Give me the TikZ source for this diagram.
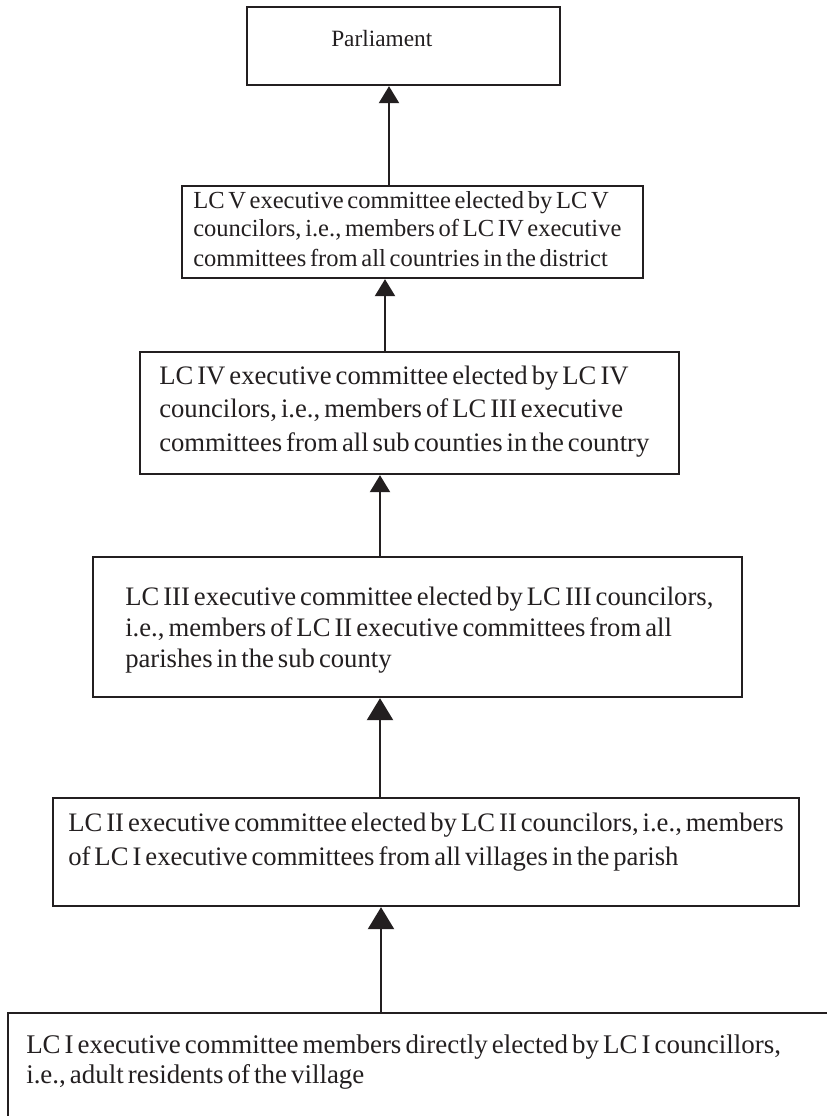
\documentclass[tikz,border=0pt]{standalone}
\usepackage{fontspec}
\setmainfont{Liberation Serif}[WordSpace=0.6]
\usetikzlibrary{arrows.meta,fit}
\definecolor{ink}{RGB}{35,31,32}
\frenchspacing
\begin{document}
\begin{tikzpicture}[x=0.75pt,y=-0.75pt,
  box/.style={draw=ink, line width=1.75pt, rectangle, inner sep=0pt},
  arr/.style={draw=ink, line width=1.7pt, -{Triangle[length=12.75pt,width=15pt]}},
  bigarr/.style={draw=ink, line width=1.7pt, -{Triangle[length=16.5pt,width=19.5pt]}},
  txt/.style={anchor=base west, inner sep=0pt, text=ink},
  fP/.style={font=\fontsize{17.5pt}{20pt}\selectfont},
  fV/.style={font=\fontsize{18.4pt}{21pt}\selectfont},
  fIV/.style={font=\fontsize{20pt}{24pt}\selectfont},
  fIII/.style={font=\fontsize{20pt}{24pt}\selectfont},
  fII/.style={font=\fontsize{20pt}{24pt}\selectfont},
  fI/.style={font=\fontsize{20.2pt}{24pt}\selectfont}]
\useasboundingbox (0,0) rectangle (827,1116);
\clip (0,0) rectangle (827,1116);
\fill[white] (0,0) rectangle (827,1116);

% boxes
\node[box, fit={(247,7) (560,85)}] (bP) {};
\node[box, fit={(182,186) (643,278)}] (bV) {};
\node[box, fit={(140,352) (679,474)}] (bIV) {};
\node[box, fit={(93,557) (742,697)}] (bIII) {};
\node[box, fit={(53,798) (799,906)}] (bII) {};
\node[box, fit={(8,1013) (900,1200)}] (bI) {};

% texts
\node[txt, fP] (tP) at (331,47) {Parliament};

\node[txt, fV] (tV1) at (193,209) {LC V executive committee elected by LC V};
\node[txt, fV] (tV2) at (193,237) {councilors, i.e., members of LC IV executive};
\node[txt, fV] (tV3) at (193,266) {committees from all countries in the district};

\node[txt, fIV] (tIV1) at (159,384) {LC IV executive committee elected by LC IV};
\node[txt, fIV] (tIV2) at (159,417) {councilors, i.e., members of LC III executive};
\node[txt, fIV] (tIV3) at (159,451) {committees from all sub counties in the country};

\node[txt, fIII] (tIII1) at (125,605) {LC III executive committee elected by LC III councilors,};
\node[txt, fIII] (tIII2) at (125,636) {i.e., members of LC II executive committees from all};
\node[txt, fIII] (tIII3) at (125,667) {parishes in the sub county};

\node[txt, fII] (tII1) at (68,831) {LC II executive committee elected by LC II councilors, i.e., members};
\node[txt, fII] (tII2) at (68,865) {of LC I executive committees from all villages in the parish};

\node[txt, fI] (tI1) at (26,1053) {LC I executive committee members directly elected by LC I councillors,};
\node[txt, fI] (tI2) at (26,1083) {i.e., adult residents of the village};

% connectors
\draw[arr] (bV.north -| 389,0) -- (bP.south -| 389,0);
\draw[arr] (bIV.north -| 385,0) -- (bV.south -| 385,0);
\draw[arr] (bIII.north -| 380,0) -- (bIV.south -| 380,0);
\draw[bigarr] (bII.north -| 380,0) -- (bIII.south -| 380,0);
\draw[bigarr] (bI.north -| 381,0) -- (bII.south -| 381,0);
\end{tikzpicture}
\end{document}
